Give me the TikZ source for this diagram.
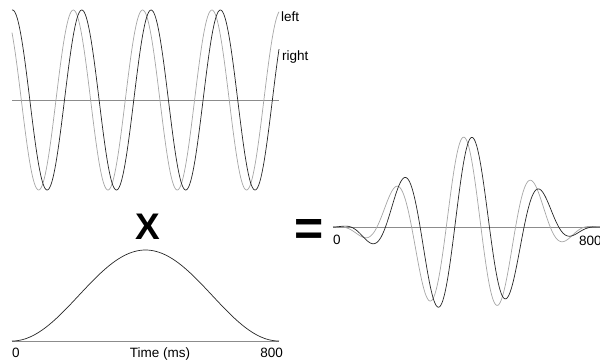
\documentclass[tikz,border=0pt]{standalone}
\usepackage{fontspec}
\setmainfont{Liberation Sans}
\usetikzlibrary{positioning}
\tikzset{
  declare function={hann(\t)=0.5*(1-cos((\t-12)*1.34831));
    lwave(\t)=cos((\t-4)*5.19481);
    rwave(\t)=cos((\t-12.5)*5.19481);},
  leftwave/.style={draw=black!35,line width=0.7pt,samples=300},
  rightwave/.style={draw=black!85,line width=0.7pt,samples=300},
  axisline/.style={draw=black!45,line width=0.6pt},
  lbl/.style={font=\fontsize{13.5}{13.5}\selectfont,inner sep=0pt},
}
\begin{document}
\begin{tikzpicture}[x=1pt,y=-1pt]
\useasboundingbox (0,0) rectangle (600,360);
% two carriers
\draw[axisline] (12,100) -- (279,100);
\draw[leftwave,domain=12:279] plot (\x,{100-90*lwave(\x)});
\draw[rightwave,domain=12:279] plot (\x,{100-90*rwave(\x)});
\node[lbl,anchor=base west] (leftlbl) at (281,21.5) {left};
\node[lbl,anchor=base west] (rightlbl) at (282,60) {right};

% window
\node[font=\fontsize{37}{37}\selectfont\bfseries,inner sep=0pt,anchor=base] (times) at (148,239) {X};
\draw[axisline] (12,341) -- (279,341);
\draw[rightwave,domain=12:279] plot (\x,{341-91*hann(\x)});
\node[lbl,anchor=base west] (zeroA) at (12,357) {0};
\node[lbl,anchor=base] (timelbl) at (160,357) {Time (ms)};
\node[lbl,anchor=base east] (endA) at (283,357) {800};

% product
\node[font=\fontsize{50}{50}\selectfont\bfseries,inner sep=0pt,anchor=base] (equals) at (309.5,245) {=};
\draw[axisline] (333,227) -- (600,227);
\draw[leftwave,domain=333:600] plot (\x,{227-90*hann(\x-321)*lwave(\x-321)});
\draw[rightwave,domain=333:600] plot (\x,{227-90*hann(\x-321)*rwave(\x-321)});
\node[lbl,anchor=base west] (zeroB) at (333,244) {0};
\node[lbl,anchor=base west] (endB) at (579,245.5) {800};
\end{tikzpicture}
\end{document}
